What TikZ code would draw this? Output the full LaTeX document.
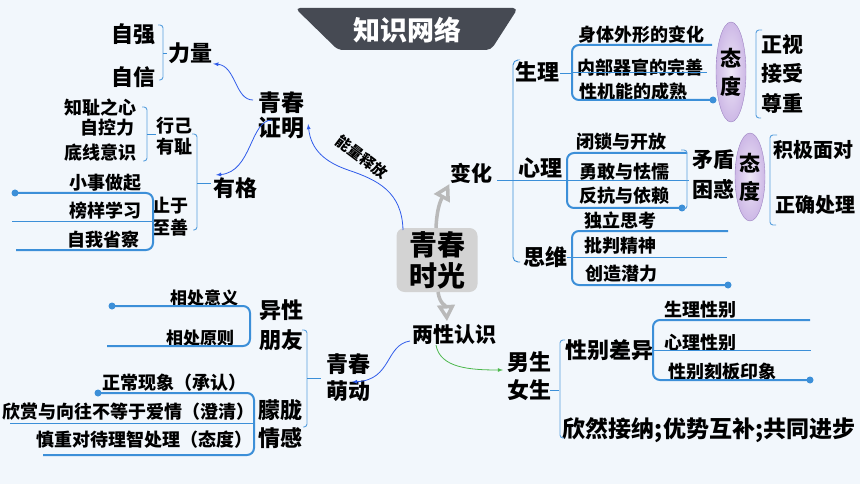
\documentclass[tikz,border=0pt]{standalone}
\usepackage{fontspec}
\setmainfont{Noto Sans CJK SC}
\usetikzlibrary{arrows,shapes.geometric}

\definecolor{lnblue}{HTML}{3C8FD8}
\definecolor{arblue}{HTML}{2F5BEA}
\definecolor{bggray}{HTML}{D3D3D3}
\definecolor{banner}{HTML}{464A53}
\definecolor{lav}{HTML}{CDB8E6}
\definecolor{lavd}{HTML}{9C83C2}
\definecolor{bgtint}{HTML}{F2F7FC}
\newcommand{\fsz}[2]{\fontsize{#1}{#2}\selectfont}

\begin{document}
\begin{tikzpicture}[x=1pt,y=-1pt,inner sep=0pt,shorten >=1pt,
  itm/.style={font=\fsz{18}{21}\bfseries},
  hd/.style={font=\fsz{22}{28}\bfseries,align=center},
  grp/.style={draw=lnblue,line width=2pt,rounded corners=7pt},
  thn/.style={draw=lnblue,line width=0.9pt},
  brc/.style={draw=lnblue!85,line width=0.9pt,rounded corners=3pt},
  arr/.style={draw=arblue,line width=0.8pt,-latex},
  big/.style={draw=gray!55,line width=3.5pt,-open triangle 60},
  dotend/.style={circle,fill=lnblue,minimum size=7pt}]
  \tikzstyle{every ellipse}=[ellipse,draw=lavd,inner color=lav!35,outer color=lav,
    minimum width=30pt,font=\fsz{21}{28}\bfseries,align=center]

  \useasboundingbox (0,0) rectangle (860,484);
  \fill[bgtint] (0,0) rectangle (860,484);

  % title and centre
  \fill[banner,rounded corners=5pt] (295,8) -- (518,8) -- (491,50) -- (338,50) -- cycle;
  \node[font=\fsz{27}{29}\bfseries,text=white] (n_ti) at (407,30) {知识网络};
  \node[fill=bggray,rounded corners=8pt,minimum width=81pt,minimum height=64pt,
        font=\fsz{28}{31}\bfseries,align=center] (n_cn) at (437,260) {青春\\时光};

  % change
  \node[hd,font=\fsz{21}{24}\bfseries] (n_bh) at (471,173) {变化};
  \node[hd] (n_sl) at (537,72)  {生理};
  \node[hd] (n_xl) at (540,168) {心理};
  \node[hd] (n_sw) at (545,257) {思维};

  \node[itm] (n_a1) at (641,35) {身体外形的变化};
  \node[itm] (n_a2) at (640,68) {内部器官的完善};
  \node[itm] (n_a3) at (633,92) {性机能的成熟};
  \node[every ellipse,minimum height=100pt] (n_t1) at (731,72) {态\\度};
  \node[hd,font=\fsz{21}{24}\bfseries] (n_zs) at (782,45)  {正视};
  \node[hd,font=\fsz{21}{24}\bfseries] (n_js) at (782,73)  {接受};
  \node[hd,font=\fsz{21}{24}\bfseries] (n_zz) at (782,103) {尊重};

  \node[itm] (n_b1) at (621,142) {闭锁与开放};
  \node[itm] (n_b2) at (624,172) {勇敢与怯懦};
  \node[itm] (n_b3) at (624,196) {反抗与依赖};
  \node[hd,font=\fsz{21}{30}\bfseries] (n_md) at (713,175) {矛盾\\困惑};
  \node[every ellipse,minimum height=88pt] (n_t2) at (750,177) {态\\度};
  \node[font=\fsz{20}{22}\bfseries] (n_jj) at (813,150) {积极面对};
  \node[font=\fsz{20}{22}\bfseries] (n_zq) at (815,205) {正确处理};

  \node[itm] (n_c1) at (620,221) {独立思考};
  \node[itm] (n_c2) at (620,246) {批判精神};
  \node[itm] (n_c3) at (621,274) {创造潜力};

  \draw[thn] (497,180) -- (690,180);
  \draw[thn,rounded corners=5pt] (517,60) -- (513,60) -- (513,262) -- (521,262);
  \draw[thn] (560,73) -- (572,73);
  \draw[grp] (712,45) -- (572,45) -- (572,100) -- (713,100);
  \draw[thn] (572,72) -- (708,72);
  \node[dotend] (e_1) at (713,100) {};
  \draw[brc] (762,30) -- (756,30) -- (756,118) -- (762,118);
  \draw[grp] (687,153) -- (567,153) -- (567,208) -- (682,208);
  \node[dotend] (e_2) at (682,208) {};
  \draw[brc] (681,150) -- (687,150) -- (687,209) -- (681,209);
  \draw[brc] (777,135) -- (770,135) -- (770,225) -- (777,225);
  \draw[grp] (728,231) -- (572,231) -- (572,285) -- (728,285);
  \draw[thn] (567,257) -- (728,257);
  \node[dotend] (e_3) at (728,285) {};

  % two sexes
  \node[font=\fsz{21}{24}\bfseries] (n_lx) at (454,335) {两性认识};
  \node[hd] (n_nn) at (529,376) {男生\\女生};
  \node[hd] (n_xb) at (609,350) {性别差异};
  \node[itm] (n_d1) at (700,310) {生理性别};
  \node[itm] (n_d2) at (700,343) {心理性别};
  \node[itm] (n_d3) at (722,372) {性别刻板印象};
  \node[font=\fsz{23}{25}\bfseries] (n_xr) at (709,430) {欣然接纳;优势互补;共同进步};

  \draw[brc] (565,340) -- (560,340) -- (560,438) -- (565,438);
  \draw[thn] (550,390) -- (560,390);
  \draw[grp] (810,320) -- (653,320) -- (653,380) -- (810,380);
  \draw[thn] (653,350) -- (812,350);
  \node[dotend] (e_4) at (810,380) {};

  % proof
  \node[hd,font=\fsz{23}{25}\bfseries] (n_qz) at (281,115) {青春\\证明};
  \node[hd] (n_ll) at (190,53) {力量};
  \node[hd] (n_zqq) at (133,34) {自强};
  \node[hd] (n_zx) at (133,77) {自信};
  \node[hd] (n_yg) at (235,188) {有格};
  \node[hd,font=\fsz{18}{21}\bfseries] (n_xj) at (174,136) {行己\\有耻};
  \node[itm] (n_e1) at (100,108) {知耻之心};
  \node[itm] (n_e2) at (107,128) {自控力};
  \node[itm] (n_e3) at (100,153) {底线意识};
  \node[hd,font=\fsz{18}{22}\bfseries] (n_zy) at (170,217) {止于\\至善};
  \node[itm] (n_f1) at (105,183) {小事做起};
  \node[itm] (n_f2) at (105,211) {榜样学习};
  \node[itm] (n_f3) at (103,240) {自我省察};

  \draw[brc] (158,25) -- (163,25) -- (163,80) -- (158,80);
  \draw[thn] (163,53) -- (168,53);
  \draw[brc] (192,134) -- (197,134) -- (197,230) -- (192,230);
  \draw[thn] (197,183) -- (212,183);
  \draw[brc] (142,107) -- (147,107) -- (147,161) -- (142,161);
  \draw[thn] (147,134) -- (157,134);
  \draw[grp] (15,193) -- (153,193) -- (153,250) -- (15,250);
  \draw[thn] (12,221) -- (155,221);
  \node[dotend] (e_5) at (15,193) {};

  % first love
  \node[hd,font=\fsz{22}{27}\bfseries] (n_qm) at (348,378) {青春\\萌动};
  \node[hd,font=\fsz{22}{30}\bfseries] (n_yx) at (281,325) {异性\\朋友};
  \node[font=\fsz{17}{19}\bfseries] (n_g1) at (204,298) {相处意义};
  \node[font=\fsz{17}{19}\bfseries] (n_g2) at (200,338) {相处原则};
  \node[hd] (n_ml) at (280,424) {朦胧\\情感};
  \node[itm] (n_h1) at (174,383) {正常现象（承认）};
  \node[itm] (n_h2) at (128,412) {欣赏与向往不等于爱情（澄清）};
  \node[itm] (n_h3) at (144,440) {慎重对待理智处理（态度）};

  \draw[brc] (302,330) -- (307,330) -- (307,427) -- (302,427);
  \draw[thn] (307,378) -- (322,378);
  \draw[grp] (112,306) -- (250,306) -- (250,346) -- (106,346);
  \node[dotend] (e_6) at (112,306) {};
  \draw[grp] (98,393) -- (254,393) -- (254,455) -- (42,455);
  \draw[thn] (10,423) -- (255,423);
  \node[dotend] (e_7) at (98,393) {};

  % arrows
  \draw[big] (436,228) .. controls (437,205) and (442,198) .. (n_bh.south west);
  \draw[big] (438,292) .. controls (440,305) and (446,305) .. (447,322);
  \draw[arr] (403,230) .. controls (402,192) and (378,180) .. (348,170)
             .. controls (325,162) and (311,150) .. (308,123);
  \node[font=\fsz{15}{15}\bfseries,rotate=-37] (n_nl) at (362,157) {能量释放};
  \draw[arr] (253,100) .. controls (235,100) and (236,66) .. (n_ll.south east);
  \draw[arr] (272,120) .. controls (250,120) and (252,172) .. (215,175);
  \draw[arr] (410,341) .. controls (385,345) and (392,380) .. (351,382);
  \draw[arr,draw=green!60!black!70] (436,345) .. controls (440,368) and (470,370) .. (504,370);
\end{tikzpicture}
\end{document}
